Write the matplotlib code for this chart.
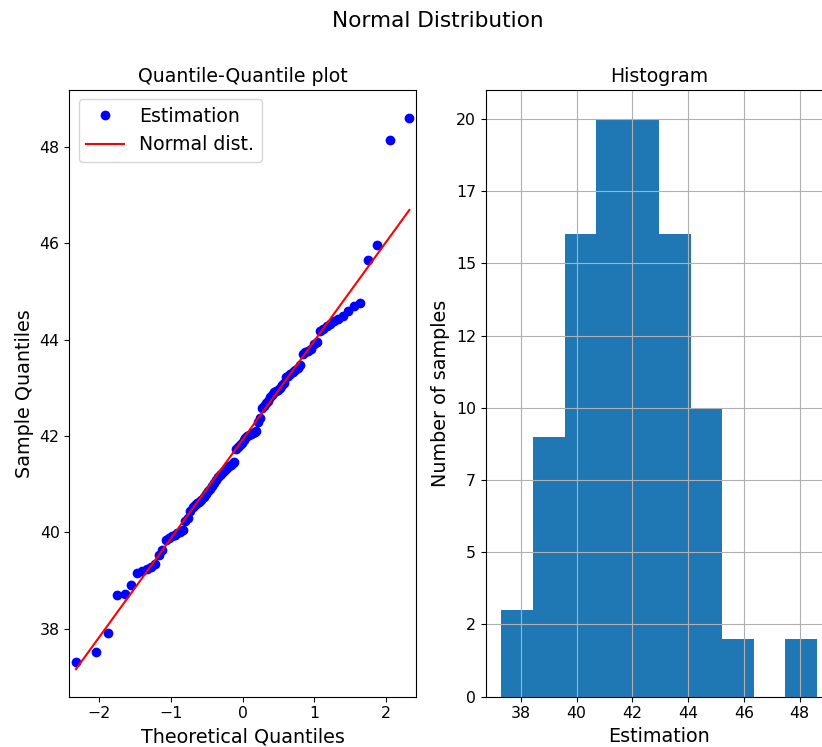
from statistics import NormalDist

import matplotlib
matplotlib.use("Agg")
import matplotlib.pyplot as plt
import numpy as np
from matplotlib.ticker import FormatStrFormatter

# sorted estimates (98 samples)
estimates = [
    37.31, 37.52, 37.91, 38.70, 38.71, 38.91, 39.15, 39.20, 39.24, 39.28,
    39.34, 39.52, 39.63, 39.84, 39.88, 39.92, 39.95, 39.98, 40.00, 40.05,
    40.24, 40.30, 40.45, 40.52, 40.56, 40.60, 40.64, 40.68, 40.74, 40.79,
    40.85, 40.90, 40.96, 41.02, 41.08, 41.14, 41.18, 41.22, 41.26, 41.30,
    41.33, 41.37, 41.40, 41.43, 41.45, 41.74, 41.78, 41.81, 41.86, 41.92,
    41.96, 41.99, 42.02, 42.04, 42.07, 42.09, 42.10, 42.30, 42.38, 42.58,
    42.62, 42.68, 42.73, 42.80, 42.86, 42.91, 42.93, 42.95, 43.00, 43.05,
    43.10, 43.22, 43.25, 43.28, 43.33, 43.37, 43.42, 43.48, 43.70, 43.74,
    43.77, 43.80, 43.92, 43.96, 44.17, 44.22, 44.28, 44.33, 44.38, 44.43,
    44.50, 44.60, 44.70, 44.76, 45.66, 45.96, 48.15, 48.61,
]
n_bins = 10

sample = np.sort(np.array(estimates))
n = len(sample)
theo = np.array([NormalDist().inv_cdf(i / (n + 1)) for i in range(1, n + 1)])
# standardized reference line: scale by sample std, shift by sample mean
fit = sample.std() * theo + sample.mean()

fig = plt.figure(figsize=(8.22, 7.47), dpi=100)
fig.suptitle("Normal Distribution", fontsize=15.6, x=0.533, y=0.985)

ax1 = fig.add_axes([0.0843, 0.0673, 0.4218, 0.8122])
ax1.plot(theo, sample, "bo", markersize=6, label="Estimation")
ax1.plot(theo, fit, "r-", label="Normal dist.")
ax1.set_xmargin(0.02)
ax1.set_title("Quantile-Quantile plot", fontsize=13.6)
ax1.set_xlabel("Theoretical Quantiles", fontsize=13.8)
ax1.set_ylabel("Sample Quantiles", fontsize=13.8)
ax1.tick_params(labelsize=11.3)
ax1.legend(loc="upper left", fontsize=13.6)

ax2 = fig.add_axes([0.5909, 0.0673, 0.4218, 0.8122])
ax2.hist(sample, bins=n_bins)
ax2.grid(True)
ax2.yaxis.set_major_formatter(FormatStrFormatter("%d"))
ax2.set_title("Histogram", fontsize=13.6)
ax2.set_xlabel("Estimation", fontsize=13.8)
ax2.set_ylabel("Number of samples", fontsize=13.8)
ax2.tick_params(labelsize=11.3)

fig.savefig("out.png", dpi=100)
